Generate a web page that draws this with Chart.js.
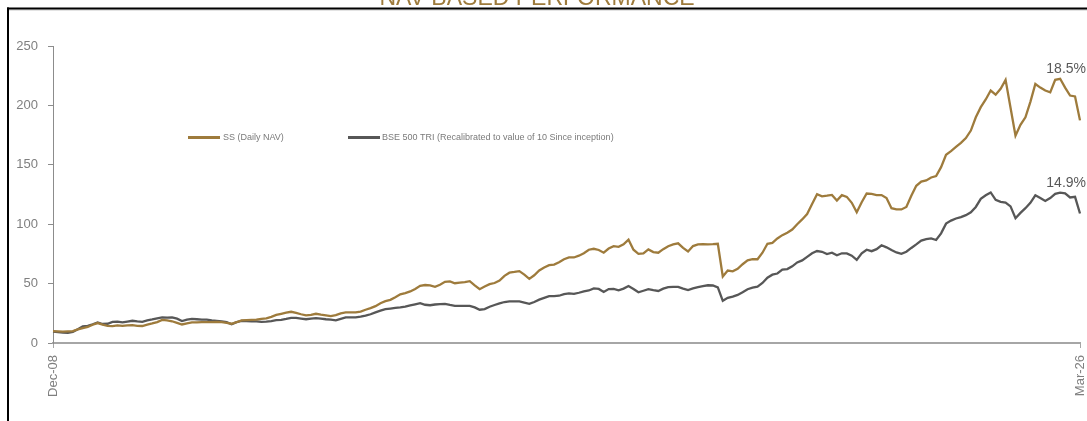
<!DOCTYPE html>
<html>
<head>
<meta charset="utf-8">
<script src="https://cdn.jsdelivr.net/npm/chart.js@4.4.1/dist/chart.umd.min.js"></script>
<style>
html,body{margin:0;padding:0;background:#fff;overflow:hidden}
#wrap{width:1087px;height:421px;position:relative}
</style>
</head>
<body>
<div id="wrap"><canvas id="c" width="1087" height="421"></canvas></div>
<script>
// ---------- DATA ----------
const chartTitle = 'NAV BASED PERFORMANCE';
const seriesNames = ['SS (Daily NAV)', 'BSE 500 TRI (Recalibrated to value of 10 Since inception)'];
const endLabels = ['18.5%', '14.9%'];
const monthNames = ['Jan','Feb','Mar','Apr','May','Jun','Jul','Aug','Sep','Oct','Nov','Dec'];
const startYear = 2008, startMonth = 11, monthCount = 208; // Dec-08 .. Mar-26

const ssNav = [
10,9.8,9.6,9.8,10,11.5,12.6,13.5,15.4,16.8,
15.5,14.5,14.2,14.8,14.5,14.8,15,14.5,14.3,15.5,
16.5,17.6,19.4,19,18.3,17,15.6,16.5,17.3,17.4,
17.6,17.6,17.6,17.8,17.5,17,16.2,17.5,19,19.2,
19.4,19.6,20.3,20.8,22,23.6,24.6,25.6,26.3,25.4,
24.2,23.2,23.7,24.6,23.8,23.2,22.6,23.5,25,25.7,
25.7,25.7,26.5,28,29.4,31,33.5,35.2,36.3,38.5,
41,42,43.4,45.5,48.1,48.8,48.5,47.3,49,51.5,
51.8,50.3,50.8,51.3,52,48.5,45.3,47.5,49.5,50.5,
52.5,56.5,59.2,59.8,60.5,57.5,54,57,61,63.5,
65.5,66,68,70.5,72,72,73.5,75.5,78.5,79.3,
78.3,76,79.5,81.5,81,83,87,78.5,75,75.5,
78.8,76.5,76,79,81.5,83,83.9,80,77,81.6,
83,83.2,83,83.2,83.5,56,61,60.3,62.5,66.3,
69.5,70.5,70.5,76,83.5,84.2,88,90.8,92.8,95.5,
100,104,108.5,117,125.3,123.5,124,124.6,120,124.5,
123,118,110,118.5,125.8,125.5,124.5,124.5,122,113.5,
112.4,112.4,114.5,124,132.3,135.8,136.8,139.3,140.5,148,
158.5,161.5,165,168.5,172.5,178.8,190,198.5,205,212.5,
209,214,221.5,198,174.5,183.6,190,203,218,215,
212.5,211,221.5,222.4,215,208.3,207.5,187.4
];

const bse500 = [
9.5,9.2,8.8,8.6,9.4,11.5,14,14.5,15.8,17.3,
16,16.2,17.8,18,17.3,18,18.7,18.2,17.8,19,
19.8,20.8,21.5,21.3,21.5,20.5,18.5,19.6,20.3,20,
19.6,19.6,19,18.6,18.2,17.5,15.8,17.5,18.7,18.5,
18.3,18.2,17.8,18,18.5,19.2,19.5,20.3,21.2,21.2,
20.6,20,20.6,21,20.6,20,19.6,19.1,20.3,21.5,
21.5,21.5,22.2,23,24.2,25.8,27.2,28.5,29,29.5,
30,30.6,31.6,32.6,33.6,32.2,31.8,32.4,32.8,33,
32,31.3,31.3,31.3,31.3,30,28,28.5,30.5,32,
33.3,34.5,35,35,35,34,32.9,34.5,36.5,38,
39.4,39.5,39.8,41.2,41.8,41.3,42.3,43.5,44.2,46,
45.5,43,45.4,45.5,44.4,45.8,48,45.5,42.7,44,
45.3,44.5,43.8,45.8,47.1,47.3,47.3,45.8,44.6,46,
47,47.9,48.6,48.4,46.8,35.5,38,39.1,40.5,42.8,
45.3,46.6,47.4,50.5,55,57.5,58.5,61.7,62.2,64.5,
67.8,69.5,72.5,75.5,77.4,76.8,74.8,76,73.8,75.5,
75.4,73.5,70,75.5,78.5,77.3,79,82.3,80.5,78.2,
76.2,75,76.8,80,83,86.2,87.4,88.1,86.7,92.3,
100.5,103,104.8,106,107.6,110,114.5,121.3,124.3,126.7,
120.5,118.8,118.2,115,105,109.5,113.5,118,124.3,122,
119.5,122,125.5,126.6,126,122.5,123,109
];

const yTicks = [0, 50, 100, 150, 200, 250];

// category labels (months)
const categories = [];
for (let k = 0; k < monthCount; k++) {
  const m = (startMonth + k) % 12;
  const y = startYear + Math.floor((startMonth + k) / 12);
  categories.push(monthNames[m] + '-' + String(y % 100).padStart(2, '0'));
}

// ---------- STYLE ----------
const GOLD = '#9e7b3c';
const GREY = '#575757';
const AXIS = '#a6a6a6';
const TICKTXT = '#7f7f7f';
const FONT = '"Liberation Sans", Arial, sans-serif';

const framePlugin = {
  id: 'frame',
  beforeDraw(chart) {
    const ctx = chart.ctx;
    ctx.save();
    ctx.fillStyle = '#fff';
    ctx.fillRect(0, 0, chart.width, chart.height);
    // title (partly above the frame, clipped by the canvas top)
    ctx.fillStyle = GOLD;
    ctx.font = '23px ' + FONT;
    ctx.textAlign = 'center';
    ctx.textBaseline = 'alphabetic';
    ctx.fillText(chartTitle, 537, 4.5);
    // frame lines
    ctx.fillStyle = '#c8c8c8';
    ctx.fillRect(9, 9.5, chart.width - 9, 1);
    ctx.fillStyle = '#000';
    ctx.fillRect(7, 7.5, chart.width - 7, 2);
    ctx.fillRect(7, 7.5, 2, chart.height - 7.5);
    ctx.restore();
  }
};

const overlayPlugin = {
  id: 'overlay',
  afterDraw(chart) {
    const ctx = chart.ctx;
    const ys = chart.scales.y;
    ctx.save();
    // legend
    const legendX = [[188, 220, 223], [348, 380, 382]];
    const legendY = 137.5;
    ctx.font = '9px ' + FONT;
    ctx.textBaseline = 'middle';
    ctx.textAlign = 'left';
    chart.data.datasets.forEach((ds, k) => {
      ctx.strokeStyle = ds.borderColor;
      ctx.lineWidth = 3;
      ctx.beginPath();
      ctx.moveTo(legendX[k][0], legendY);
      ctx.lineTo(legendX[k][1], legendY);
      ctx.stroke();
      ctx.fillStyle = '#7a7a7a';
      ctx.fillText(ds.label, legendX[k][2], legendY);
    });
    // end labels (CAGR)
    ctx.font = '14px ' + FONT;
    ctx.fillStyle = '#595959';
    ctx.textAlign = 'right';
    ctx.textBaseline = 'alphabetic';
    const anchorIdx = monthCount - 5;
    chart.data.datasets.forEach((ds, k) => {
      const v = ds.data[anchorIdx];
      ctx.fillText(endLabels[k], 1086, ys.getPixelForValue(v) - 6);
    });
    ctx.restore();
  }
};

new Chart(document.getElementById('c'), {
  type: 'line',
  data: {
    labels: categories,
    datasets: [
      { label: seriesNames[0], data: ssNav, borderColor: GOLD, borderWidth: 2.3, pointRadius: 0, tension: 0, fill: false },
      { label: seriesNames[1], data: bse500, borderColor: GREY, borderWidth: 2.3, pointRadius: 0, tension: 0, fill: false }
    ]
  },
  options: {
    responsive: false,
    animation: false,
    events: [],
    layout: { padding: { left: 0, right: 7, top: 46, bottom: 0 } },
    plugins: { legend: { display: false }, tooltip: { enabled: false }, title: { display: false } },
    scales: {
      x: {
        type: 'category',
        offset: false,
        grid: { display: true, drawOnChartArea: false, drawTicks: true, tickLength: 5, tickColor: AXIS, tickWidth: 1 },
        border: { display: true, color: AXIS, width: 2 },
        ticks: {
          autoSkip: false, maxRotation: 90, minRotation: 90, padding: 7,
          color: TICKTXT, font: { family: FONT, size: 13 }
        },
        afterBuildTicks: s => { s.ticks = s.ticks.filter(t => t.value === 0 || t.value === monthCount - 1); },
        afterFit: s => { s.height = 78; s.paddingLeft = 0; s.paddingRight = 0; }
      },
      y: {
        min: yTicks[0], max: yTicks[yTicks.length - 1],
        afterBuildTicks: s => { s.ticks = yTicks.map(v => ({ value: v })); },
        grid: { display: true, drawOnChartArea: false, drawTicks: true, tickLength: 5, tickColor: '#8c8c8c' },
        border: { display: true, color: '#8c8c8c', width: 1 },
        ticks: { padding: 10, color: TICKTXT, font: { family: FONT, size: 13 } },
        afterFit: s => { s.width = 53; }
      }
    }
  },
  plugins: [framePlugin, overlayPlugin]
});
</script>
</body>
</html>
